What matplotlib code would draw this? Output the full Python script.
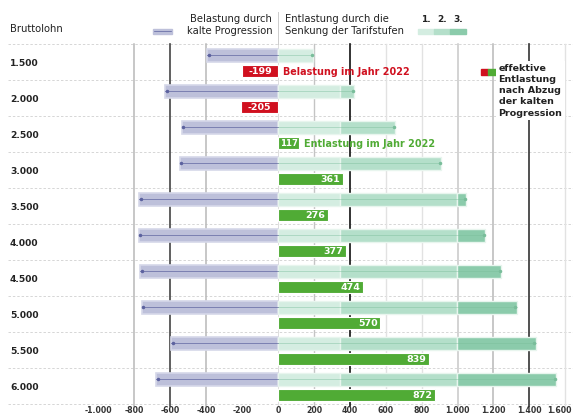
import matplotlib.pyplot as plt
from matplotlib.patches import Rectangle

plt.rcParams["font.family"] = ["DejaVu Sans"]

# Daten (Euro pro Jahr)
bruttolohn = ["1.500", "2.000", "2.500", "3.000", "3.500",
              "4.000", "4.500", "5.000", "5.500", "6.000"]
belastung = [-394, -628, -536, -547, -772, -776, -768, -760, -596, -678]
stufe1 = [195, 345, 345, 345, 345, 345, 345, 345, 345, 345]
stufe2 = [0, 78, 308, 563, 650, 650, 650, 650, 650, 650]
stufe3 = [0, 0, 0, 0, 53, 158, 247, 335, 440, 555]
effektiv = [-199, -205, 117, 361, 276, 377, 474, 570, 839, 872]
x_ticks = [-1000, -800, -600, -400, -200, 0, 200, 400, 600, 800,
           1000, 1200, 1400, 1600]

LAV = "#bdc0da"
LAV_EDGE = "#d6d8e9"
LAV_LINE = "#5c629f"
GREENS = ["#d4ede1", "#b4dfca", "#8bcbab"]
G_EDGE = "#e8f5ee"
G_LINE = "#79bd9a"
RED = "#d0101f"
GREEN = "#50ab35"
TXT = "#222222"


def fmt(v):
    s = f"{abs(v):,}".replace(",", ".")
    return ("-" if v < 0 else "") + s


fig = plt.figure(figsize=(5.73, 4.18), dpi=100)
ax = fig.add_axes([0, 0, 1, 1])
ax.set_xlim(-1549, 1643)
ax.set_ylim(9.889, -1.722)
ax.axis("off")

n = len(bruttolohn)

# horizontale Trennlinien
for k in range(n + 1):
    ax.plot([-1504, 1643], [k - 0.5, k - 0.5], color="#d6d6d6", lw=0.7,
            ls=(0, (2.5, 2)), zorder=1)

# vertikale Gitterlinien
grid_style = {
    -800: ("#b8b8b8", 1.1), -600: ("#444444", 1.2), -400: ("#b8b8b8", 1.1),
    0: ("#dddddd", 0.7), 200: ("#c4c4c4", 1.0), 400: ("#111111", 1.2),
    600: ("#e2e2e2", 1.0), 800: ("#e2e2e2", 1.0), 1000: ("#c8c8c8", 1.1),
    1200: ("#b8b8b8", 1.1), 1400: ("#333333", 1.2), 1600: ("#e2e2e2", 1.0),
}
for xv, (c, lw) in grid_style.items():
    ax.plot([xv, xv], [-0.5, 9.55], color=c, lw=lw, zorder=1)
ax.plot([0, 0], [-1.38, -0.5], color="#cccccc", lw=0.7, zorder=1)

h_top = 0.36
h_eff = 0.33
y_top_off = -0.19
y_eff_off = 0.25

for i in range(n):
    yt = i + y_top_off
    ye = i + y_eff_off

    # Belastung durch kalte Progression
    ax.barh(yt, belastung[i], height=h_top, color=LAV, edgecolor=LAV_EDGE,
            lw=1.2, zorder=3)
    ax.plot([0, belastung[i]], [yt, yt], color=LAV_LINE, lw=0.6, alpha=0.8,
            zorder=4)
    ax.plot(belastung[i] + 8, yt, "o", ms=1.5, color=LAV_LINE, zorder=4)

    # Entlastung durch Senkung der Tarifstufen
    left = 0
    for vals, col in zip([stufe1, stufe2, stufe3], GREENS):
        if vals[i] > 0:
            ax.barh(yt, vals[i], left=left, height=h_top, color=col,
                    edgecolor=G_EDGE, lw=1.0, zorder=3)
            left += vals[i]
    ax.plot([0, left], [yt, yt], color=G_LINE, lw=0.5, alpha=0.6, zorder=4)
    ax.plot(left - 8, yt, "o", ms=1.5, color=G_LINE, zorder=4)

    # effektive Entlastung
    v = effektiv[i]
    col = RED if v < 0 else GREEN
    ax.barh(ye, v, height=h_eff, color=col, edgecolor="white", lw=0.8,
            zorder=5)
    if v < 0:
        ax.text(v / 2, ye + 0.02, fmt(v), color="white", fontsize=6.8,
                fontweight="bold", ha="center", va="center", zorder=6)
    elif v < 150:
        ax.text(v / 2, ye + 0.02, fmt(v), color="white", fontsize=6.1,
                fontweight="bold", ha="center", va="center", zorder=6)
    else:
        ax.text(v - 14, ye + 0.02, fmt(v), color="white", fontsize=6.8,
                fontweight="bold", ha="right", va="center", zorder=6)

    # Bruttolohn
    ax.text(-1493, i + 0.03, bruttolohn[i], color=TXT, fontsize=6.6,
            fontweight="bold", ha="left", va="center")

# Hinweise 2022
ax.text(30, 0 + y_eff_off + 0.02, "Belastung im Jahr 2022", color=RED,
        fontsize=6.9, fontweight="bold", ha="left", va="center", zorder=6)
ax.text(effektiv[2] + 30, 2 + y_eff_off + 0.02, "Entlastung im Jahr 2022",
        color=GREEN, fontsize=6.9, fontweight="bold", ha="left", va="center",
        zorder=6)

# x-Achsenbeschriftung
for xv in x_ticks:
    ha = "center"
    xpos = xv
    if xv == x_ticks[-1]:
        ha = "right"
        xpos = 1638
    ax.text(xpos, 9.69, fmt(xv), color="#333333", fontsize=5.6,
            fontweight="bold", ha=ha, va="center")

# Kopfzeile
ax.text(-1493, -0.92, "Bruttolohn", color=TXT, fontsize=7.2, ha="left",
        va="center")
ax.text(-33, -1.19, "Belastung durch", color=TXT, fontsize=7.2, ha="right",
        va="center")
ax.text(-33, -0.86, "kalte Progression", color=TXT, fontsize=7.2,
        ha="right", va="center")
ax.add_patch(Rectangle((-696, -0.93), 106, 0.15, color=LAV, zorder=3))
ax.plot([-690, -596], [-0.855, -0.855], color=LAV_LINE, lw=0.5, zorder=4)
ax.text(39, -1.19, "Entlastung durch die", color=TXT, fontsize=7.2,
        ha="left", va="center")
ax.text(39, -0.86, "Senkung der Tarifstufen", color=TXT, fontsize=7.2,
        ha="left", va="center")
sw_x = [780, 869, 958]
for k, (sx, col) in enumerate(zip(sw_x, GREENS)):
    ax.add_patch(Rectangle((sx, -0.93), 89, 0.15, color=col, zorder=3))
    ax.text(sx + 44, -1.17, f"{k + 1}.", color=TXT, fontsize=6.5,
            fontweight="bold", ha="center", va="center")

# Legende effektive Entlastung
ax.add_patch(Rectangle((1128, 0.2), 44, 0.16, color=RED, zorder=6))
ax.add_patch(Rectangle((1172, 0.2), 44, 0.16, color=GREEN, zorder=6))
ax.text(1228, 0.06,
        "effektive\nEntlastung\nnach Abzug\nder kalten\nProgression",
        color=TXT, fontsize=6.8, fontweight="bold", ha="left", va="top",
        linespacing=1.3, zorder=6,
        bbox=dict(facecolor="white", edgecolor="none", pad=2))

fig.savefig("out.png", dpi=100)
